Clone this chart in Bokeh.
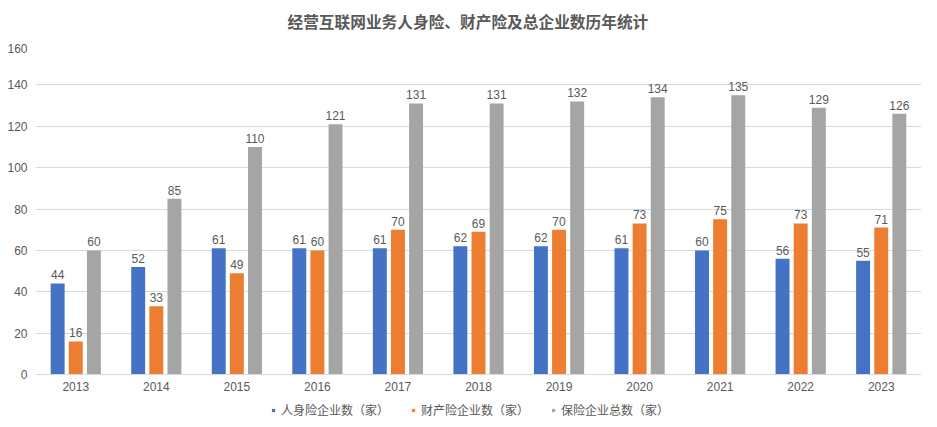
from bokeh.plotting import figure
from bokeh.models import ColumnDataSource, FactorRange, LabelSet, Legend, LegendItem, Range1d, FixedTicker
from bokeh.core.properties import value
from bokeh.layouts import column
from bokeh.transform import dodge
from bokeh.embed import file_html
from bokeh.resources import INLINE

years = ["2013", "2014", "2015", "2016", "2017", "2018", "2019", "2020", "2021", "2022", "2023"]
life = [44, 52, 61, 61, 61, 62, 62, 61, 60, 56, 55]
prop = [16, 33, 49, 60, 70, 69, 70, 73, 75, 73, 71]
total = [60, 85, 110, 121, 131, 131, 132, 134, 135, 129, 126]
names = ["人身险企业数（家）", "财产险企业数（家）", "保险企业总数（家）"]
colors = ["#4472C4", "#ED7D31", "#A5A5A5"]
title_text = "经营互联网业务人身险、财产险及总企业数历年统计"

FONT = "Noto Sans CJK SC"
NUMFONT = "Liberation Sans"
src = ColumnDataSource(dict(years=years, life=life, prop=prop, total=total))

# title strip
p0 = figure(width=921, height=43, output_backend="svg", toolbar_location=None,
            x_range=Range1d(0, 1), y_range=Range1d(0, 1), min_border=0)
p0.axis.visible = False
p0.grid.visible = False
p0.outline_line_color = None
p0.title.text = title_text
p0.title.align = "left"
p0.title.offset = 252
p0.title.text_font = FONT
p0.title.text_font_size = "15.7px"
p0.title.text_color = "#595959"
p0.title.text_font_style = "bold"
p0.title.standoff = 22

p = figure(x_range=FactorRange(*years, range_padding=0), y_range=Range1d(0, 160),
           width=921, height=356, output_backend="svg", toolbar_location=None, title=None,
           min_border_left=35, min_border_right=0, min_border_bottom=25, min_border_top=0)

w = 0.173
off = 0.225
for col, o, c in zip(["life", "prop", "total"], [-off, 0, off], colors):
    p.vbar(x=dodge("years", o, range=p.x_range), top=col, width=w, source=src,
           fill_color=c, line_color=None)
    lbl = LabelSet(x=dodge("years", o, range=p.x_range), y=col, text=col, source=src,
                   y_offset=4, text_align="center", text_baseline="bottom",
                   text_font_size="12px", text_color="#595959", text_font=value(NUMFONT))
    p.add_layout(lbl)

p.xgrid.grid_line_color = None
p.ygrid.grid_line_color = "#D9D9D9"
p.yaxis.ticker = FixedTicker(ticks=list(range(0, 161, 20)))
p.yaxis.axis_line_color = None
p.yaxis.major_tick_line_color = None
p.yaxis.minor_tick_line_color = None
p.yaxis.major_tick_out = 0
p.yaxis.major_tick_in = 0
p.yaxis.major_label_text_color = "#595959"
p.yaxis.major_label_text_font = NUMFONT
p.yaxis.major_label_text_font_size = "12px"
p.yaxis.major_label_standoff = 8
p.xaxis.axis_line_color = "#D9D9D9"
p.xaxis.major_tick_line_color = None
p.xaxis.major_tick_out = 0
p.xaxis.major_tick_in = 0
p.xaxis.major_label_text_color = "#595959"
p.xaxis.major_label_text_font = NUMFONT
p.xaxis.major_label_text_font_size = "12px"
p.xaxis.major_label_standoff = 7
p.outline_line_color = None

# legend strip
p2 = figure(width=921, height=24, output_backend="svg", toolbar_location=None,
            x_range=Range1d(0, 1), y_range=Range1d(0, 1), min_border=0)
p2.axis.visible = False
p2.grid.visible = False
p2.outline_line_color = None
leg_renderers = []
for c in colors:
    r = p2.scatter(x=[-5], y=[-5], marker="square", size=9, fill_color=c, line_color=None)
    leg_renderers.append(r)
legend = Legend(items=[LegendItem(label=n, renderers=[r]) for n, r in zip(names, leg_renderers)],
                orientation="horizontal", location=(234, 5),
                label_text_font=FONT, label_text_font_size="12px", label_text_color="#595959",
                glyph_width=8, glyph_height=8, spacing=20, label_standoff=4,
                label_height=14, border_line_color=None, background_fill_alpha=0,
                padding=0, margin=0)
p2.add_layout(legend)

open("out.html", "w").write(file_html(column(p0, p, p2), INLINE))
